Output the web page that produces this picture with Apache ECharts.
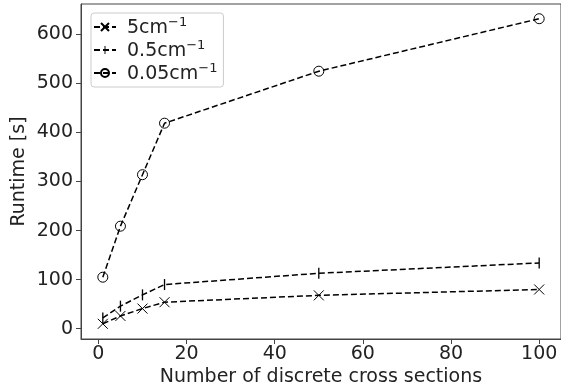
<!DOCTYPE html>
<html><head><meta charset="utf-8">
<script src="https://cdn.jsdelivr.net/npm/echarts@6/dist/echarts.min.js"></script>
<style>html,body{margin:0;padding:0;background:#fff}#c{width:561px;height:392px}</style>
</head><body><div id="c"></div>
<script>
const xValues = [1, 5, 10, 15, 50, 100];
const series5 = [10, 26, 41, 54, 68, 80];
const series05 = [22, 46, 69, 90, 113, 134];
const series005 = [105, 209, 314, 419, 525, 632];
const legendBase = ['5cm', '0.5cm', '0.05cm'];
const xTicks = [0, 20, 40, 60, 80, 100];
const yTicks = [0, 100, 200, 300, 400, 500, 600];

const font = 'DejaVu Sans';
const pair = arr => xValues.map((x, i) => [x, arr[i]]);
const barPath = 'path://M0,0M10,0M10,10M0,10M4.4,0L5.6,0L5.6,10L4.4,10Z';
const xPath = 'path://M0,0L10,10M10,0L0,10';
const common = {
  type: 'line',
  color: '#000',
  lineStyle: { color: '#000', width: 1.5, type: [6, 3] },
  showAllSymbol: true,
  z: 3
};
const chart = echarts.init(document.getElementById('c'));
chart.setOption({
  animation: false,
  backgroundColor: '#fff',
  grid: { left: 81, top: 4, width: 483, height: 336, show: true, borderColor: '#444', borderWidth: 1, backgroundColor: 'transparent' },
  legend: {
    left: 91, top: 13, orient: 'vertical',
    itemWidth: 22, itemHeight: 10, itemGap: 1,
    padding: [3, 6, 3, 2],
    backgroundColor: '#fff', borderColor: '#ccc', borderWidth: 1, borderRadius: 3,
    formatter: name => '{b|' + legendBase[['s5','s05','s005'].indexOf(name)] + '}{s|−1}',
    textStyle: {
      fontFamily: font, fontSize: 19, color: '#222', padding: [0, 0, 0, 6],
      rich: {
        b: { fontFamily: font, fontSize: 19, color: '#222', lineHeight: 22, verticalAlign: 'bottom' },
        s: { fontFamily: font, fontSize: 13, color: '#222', lineHeight: 22, verticalAlign: 'top' }
      }
    },
    data: ['s5', 's05', 's005']
  },
  xAxis: {
    type: 'value', min: -3.95, max: 104.95,
    name: 'Number of discrete cross sections', nameLocation: 'middle', nameGap: 29,
    nameMoveOverlap: false,
    nameTextStyle: { fontFamily: font, fontSize: 19, color: '#222' },
    axisLine: { show: true, onZero: false, lineStyle: { color: '#444', width: 1 } },
    axisTick: { show: true, inside: false, length: 5, lineStyle: { color: '#444' }, customValues: xTicks },
    axisLabel: { fontFamily: font, fontSize: 19, color: '#222', margin: 6, customValues: xTicks },
    splitLine: { show: false }
  },
  yAxis: {
    type: 'value', min: -21, max: 662,
    name: 'Runtime [s]', nameLocation: 'middle', nameGap: 52,
    nameMoveOverlap: false,
    nameTextStyle: { fontFamily: font, fontSize: 19, color: '#222' },
    axisLine: { show: true, onZero: false, lineStyle: { color: '#444', width: 1 } },
    axisTick: { show: true, inside: false, length: 5, lineStyle: { color: '#444' }, customValues: yTicks },
    axisLabel: { fontFamily: font, fontSize: 19, color: '#222', margin: 8, customValues: yTicks },
    splitLine: { show: false }
  },
  series: [
    Object.assign({}, common, {
      name: 's5', data: pair(series5),
      symbol: xPath, symbolSize: 10,
      itemStyle: { color: 'rgba(0,0,0,0)', borderColor: '#000', borderWidth: 1 }
    }),
    Object.assign({}, common, {
      name: 's05', data: pair(series05),
      symbol: barPath, symbolSize: 11,
      itemStyle: { color: '#000', borderWidth: 0 }
    }),
    Object.assign({}, common, {
      name: 's005', data: pair(series005),
      symbol: 'circle', symbolSize: 10,
      itemStyle: { color: 'rgba(0,0,0,0)', borderColor: '#000', borderWidth: 1 }
    })
  ]
});
</script></body></html>
